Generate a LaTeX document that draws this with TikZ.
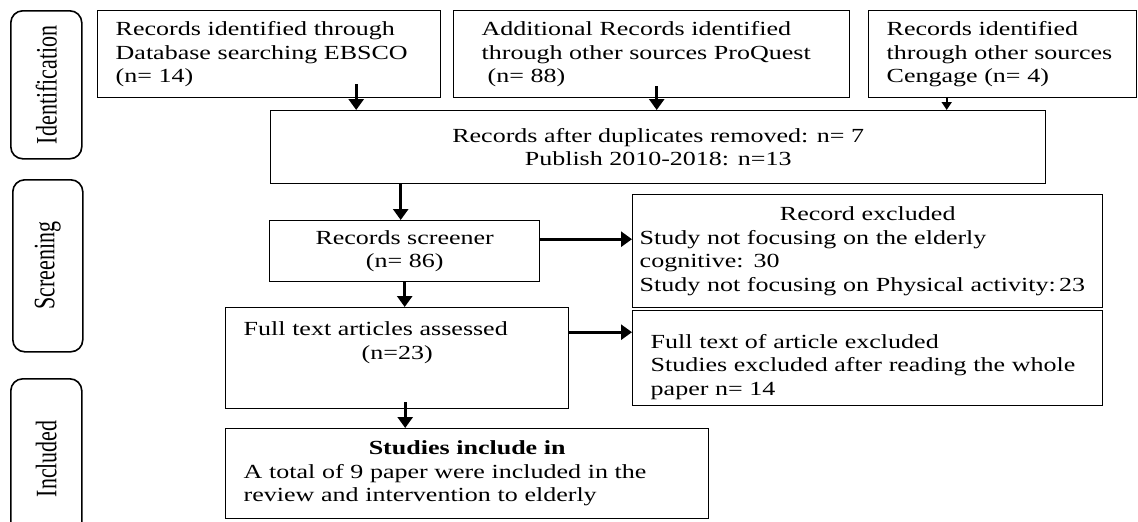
\documentclass[tikz,border=0pt]{standalone}
\usepackage{fontspec}
\setmainfont{Liberation Serif}[FakeStretch=1.3]
\newfontfamily\sidefont{Liberation Serif}
\usetikzlibrary{arrows.meta}
\begin{document}
\begin{tikzpicture}[x=1pt,y=-1pt,
  box/.style={draw,line width=1.4pt,anchor=north west,inner sep=0pt,font=\fontsize{20}{23.5}\selectfont},
  side/.style={draw,line width=1.6pt,rounded corners=12pt,anchor=north west,inner sep=0pt,font=\sidefont\fontsize{22}{24}\selectfont},
  arr/.style={line width=3pt,-{Triangle[length=11pt,width=15pt]}}]
\useasboundingbox (0,0) rectangle (1138,522);
\node[side,minimum width=71pt,minimum height=148pt] (idlab) at (10,10) {\rotatebox{90}{\scalebox{1}[1.35]{Identification}}};
\node[side,minimum width=70pt,minimum height=172pt] (scrlab) at (12,179) {\rotatebox{90}{\scalebox{1}[1.35]{Screening}}};
\node[side,minimum width=71pt,minimum height=160pt] (inclab) at (10,378) {\rotatebox{90}{\scalebox{1}[1.35]{Included}}};
\node[box,minimum width=343pt,minimum height=87pt,text width=307pt,align=left] (ebsco) at (97,10) {Records identified through\\Database searching EBSCO\\(n= 14)};
\node[box,minimum width=396pt,minimum height=87pt,text width=340pt,align=left] (proquest) at (453,10) {Additional Records identified\\through other sources ProQuest\\\hspace*{6pt}(n= 88)};
\node[box,minimum width=268pt,minimum height=87pt,text width=232pt,align=left] (cengage) at (868,10) {Records identified\\through other sources\\Cengage (n= 4)};
\node[box,minimum width=775pt,minimum height=73pt,align=center] (dedup) at (270,110) {Records after duplicates removed: n= 7\\Publish 2010-2018: n=13};
\node[box,minimum width=270pt,minimum height=61pt,align=center] (screen) at (269,220) {Records screener\\(n= 86)};
\node[box,minimum width=470pt,minimum height=113pt,text width=456pt,align=left] (excl) at (632,194) {\makebox[\linewidth]{Record excluded}\\Study not focusing on the elderly\\cognitive: 30\\Study not focusing on Physical activity:\,23};
\node[box,minimum width=343pt,minimum height=101pt,text width=307pt,align=left,text height=15pt,text depth=60pt] (fulltext) at (225,307) {Full text articles assessed\\\makebox[\linewidth]{(n=23)}};
\node[box,minimum width=470pt,minimum height=95pt,text width=434pt,align=left,text height=31pt,text depth=51pt] (fullexcl) at (632,310) {Full text of article excluded\\Studies excluded after reading the whole\\paper n= 14};
\node[box,minimum width=483pt,minimum height=90pt,text width=447pt,align=left] (incl) at (225,428) {\makebox[\linewidth]{\bfseries Studies include in}\\A total of 9 paper were included in the\\review and intervention to elderly};
\draw[arr] ([xshift=87pt,yshift=14pt]ebsco.south) -- ([xshift=87pt]ebsco.south |- dedup.north);
\draw[arr] ([xshift=5pt,yshift=12pt]proquest.south) -- ([xshift=5pt]proquest.south |- dedup.north);
\draw[line width=1.8pt,-{Triangle[length=8pt,width=10pt]}] ([xshift=-56pt]cengage.south) -- ([xshift=-56pt]cengage.south |- dedup.north);
\draw[arr] ([xshift=-4pt]screen.north |- dedup.south) -- ([xshift=-4pt]screen.north);
\draw[arr] (screen.south) -- (screen.south |- fulltext.north);
\draw[arr] ([xshift=8pt,yshift=7pt]fulltext.south) -- ([xshift=8pt]fulltext.south |- incl.north);
\draw[arr] ([yshift=12pt]screen.east) -- ([yshift=12pt]screen.east -| excl.west);
\draw[arr] ([yshift=26pt]fulltext.east) -- ([yshift=26pt]fulltext.east -| fullexcl.west);
\end{tikzpicture}
\end{document}
